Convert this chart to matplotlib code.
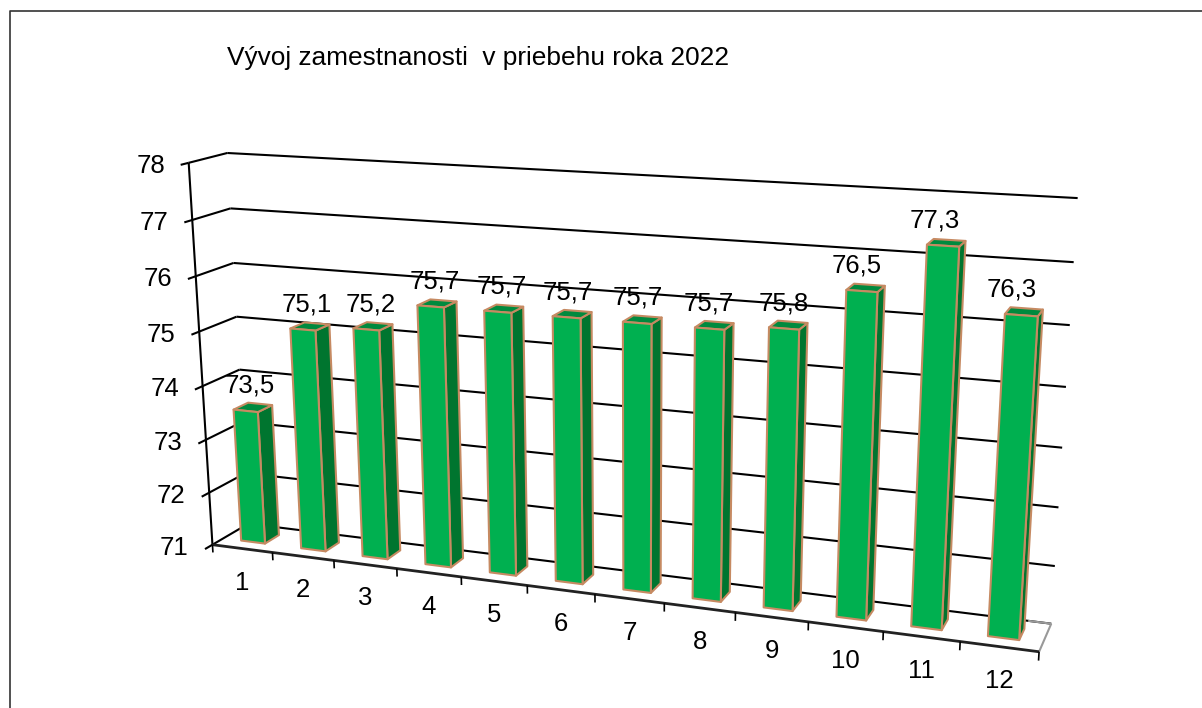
import numpy as np
import matplotlib
matplotlib.use("Agg")
import matplotlib.pyplot as plt
from matplotlib.patches import Polygon

plt.rcParams['font.family'] = ['Liberation Sans', 'DejaVu Sans']

title = 'Vývoj zamestnanosti  v priebehu roka 2022'
months = ['1', '2', '3', '4', '5', '6', '7', '8', '9', '10', '11', '12']
values = [73.5, 75.1, 75.2, 75.7, 75.7, 75.7, 75.7, 75.7, 75.8, 76.5, 77.3, 76.3]
labels = ['73,5', '75,1', '75,2', '75,7', '75,7', '75,7', '75,7', '75,7', '75,8', '76,5', '77,3', '76,3']
y_ticks = [71, 72, 73, 74, 75, 76, 77, 78]
# small shift of each value label, as excel placed them
label_dx = [2, 2, 3, 3, 3, 1, 0, -1, 0, -4, -7, -7]

FONT = 18.5
FRONT = '#00b050'
SIDE = '#00752f'
TOP = '#008a3e'
EDGE = '#c68a62'

# camera of the 3d box: (category, value, depth) -> picture pixel
calib = [
    (0, 71, 0, 213, 544), (0, 78, 0, 189, 163), (12, 71, 0, 1039, 652),
    (1, 71, 0, 273, 553), (11, 71, 0, 960, 642), (0, 75, 0, 198, 331),
    (0, 71, 1, 248, 524), (0, 75, 1, 236, 317), (0, 78, 1, 228, 153),
    (12, 71, 1, 1051, 623), (12, 75, 1, 1067, 387), (12, 78, 1, 1077, 198),
]
A = []
b = []
for c, v, d, px, py in calib:
    A.append([c, v, d, 1, 0, 0, 0, 0, -px * c, -px * v, -px * d])
    A.append([0, 0, 0, 0, c, v, d, 1, -py * c, -py * v, -py * d])
    b += [px, py]
cam = np.linalg.lstsq(np.array(A, float), np.array(b, float), rcond=None)[0]


def project(c, v, d):
    w = cam[8] * c + cam[9] * v + cam[10] * d + 1
    return ((cam[0] * c + cam[1] * v + cam[2] * d + cam[3]) / w,
            (cam[4] * c + cam[5] * v + cam[6] * d + cam[7]) / w)


def line(p, q, color='black', lw=1.5, z=2):
    ax.plot([p[0], q[0]], [p[1], q[1]], color=color, lw=lw, zorder=z, solid_capstyle='butt')


fig = plt.figure(figsize=(12.02, 7.08), dpi=100)
ax = fig.add_axes([0, 0, 1, 1])
ax.set_xlim(0, 1202)
ax.set_ylim(708, 0)
ax.axis('off')

# chart frame, cut off at the bottom and right
ax.plot([10, 10, 1202], [708, 10.5, 10.5], color='#333333', lw=1.2)

ax.text(227, 58.5, title, fontsize=18.9, va='center', ha='left', color='black')

# walls and floor
n = len(months)
for v in y_ticks:
    line(project(0, v, -0.2), project(0, v, 0))
    line(project(0, v, 0), project(0, v, 1))
    line(project(0, v, 1), project(n, v, 1))
    x, y = project(0, v, 0)
    ax.text(x - 38, y + 3, str(v), fontsize=FONT, ha='center', va='center')
line(project(0, 71, 0), project(0, 78, 0))
line(project(n, 71, 0), project(n, 71, 1), color='#999999')
line(project(n - 0.3, 71, 1), project(n, 71, 1), color='#999999')
line(project(0, 71, 0), project(n, 71, 0), color='#222222', lw=2)
for i in range(n + 1):
    line(project(i, 71, 0), project(i, 70.85, 0), lw=1.2)
for i, m in enumerate(months):
    x, y = project(i + 0.5, 71, 0)
    ax.text(x, y + 34, m, fontsize=FONT, ha='center', va='center')

# bars
c0, c1 = 0.3, 0.7
d0, d1 = 0.3, 0.7
for i, val in enumerate(values):
    l, r = i + c0, i + c1
    side = [project(r, 71, d0), project(r, 71, d1), project(r, val, d1), project(r, val, d0)]
    top = [project(l, val, d0), project(r, val, d0), project(r, val, d1), project(l, val, d1)]
    front = [project(l, 71, d0), project(r, 71, d0), project(r, val, d0), project(l, val, d0)]
    for pts, col in ((side, SIDE), (top, TOP), (front, FRONT)):
        ax.add_patch(Polygon(pts, closed=True, facecolor=col, edgecolor=EDGE, lw=1.5,
                             joinstyle='round', zorder=3))
    x, y = project(i + 0.5, val, 0.5)
    ax.text(x - 5 + label_dx[i], y - 22, labels[i], fontsize=FONT, ha='center', va='center', zorder=5)

fig.savefig('out.png', dpi=100)
